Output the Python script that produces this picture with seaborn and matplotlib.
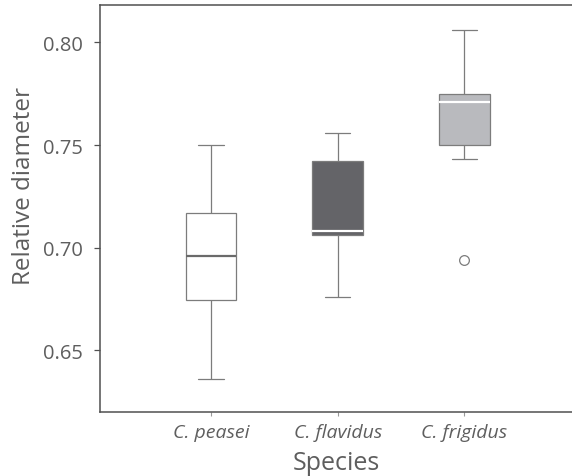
import numpy as np
import pandas as pd
import matplotlib
matplotlib.use("Agg")
import matplotlib.pyplot as plt
import seaborn as sns

species = ["C. peasei", "C. flavidus", "C. frigidus"]
peasei = [0.636, 0.660, 0.6745, 0.685, 0.696, 0.705, 0.717, 0.735, 0.750]
flavidus = [0.676, 0.700, 0.706, 0.707, 0.708, 0.725, 0.742, 0.750, 0.756]
frigidus = [0.694, 0.743, 0.750, 0.760, 0.771, 0.773, 0.775, 0.790, 0.806]

fills = ["#ffffff", "#646468", "#b9babe"]
medians = ["#6a6a6a", "#ffffff", "#ffffff"]

df = pd.DataFrame({
    "Species": np.repeat(species, 9),
    "value": peasei + flavidus + frigidus,
})

sns.set_style("ticks")
plt.rcParams["font.family"] = ["Open Sans", "DejaVu Sans"]

fig = plt.figure(figsize=(5.72, 4.77), dpi=100)
ax = fig.add_axes([100 / 572, 1 - 413.3 / 477, 1 - 100 / 572, (413.3 - 6) / 477])

for s, fc, mc in zip(species, fills, medians):
    sns.boxplot(data=df[df.Species == s], x="Species", y="value", order=species,
                color=fc, linecolor="#7c7c7c", linewidth=0.9, width=0.4,
                fliersize=7, saturation=1,
                medianprops=dict(color=mc, linewidth=1.6),
                flierprops=dict(marker="o", markerfacecolor="none",
                                markeredgecolor="#7c7c7c", markeredgewidth=0.9),
                ax=ax)

ax.set_xlim(-0.876, 2.85)
ax.set_ylim(0.6198, 0.8182)
ax.set_yticks([0.65, 0.70, 0.75, 0.80])
ax.set_yticklabels(["0.65", "0.70", "0.75", "0.80"])

for side in ["left", "top", "bottom"]:
    ax.spines[side].set_visible(True)
    ax.spines[side].set_color("#505050")
    ax.spines[side].set_linewidth(1.1)
ax.spines["right"].set_visible(False)

ax.tick_params(axis="y", length=4, width=0.9, color="#505050", pad=8,
               labelsize=14.5, labelcolor="#5e5e5e")
ax.tick_params(axis="x", length=3, width=0.8, color="#999999", pad=5,
               labelsize=14, labelcolor="#5e5e5e")
for lab in ax.get_xticklabels():
    lab.set_fontstyle("italic")

ax.set_xlabel("Species", fontsize=18, color="#5e5e5e", labelpad=6)
ax.set_ylabel("Relative diameter", fontsize=17.5, color="#5e5e5e")
ax.yaxis.set_label_coords(-0.135, 0.558)

fig.savefig("out.png", dpi=100)
